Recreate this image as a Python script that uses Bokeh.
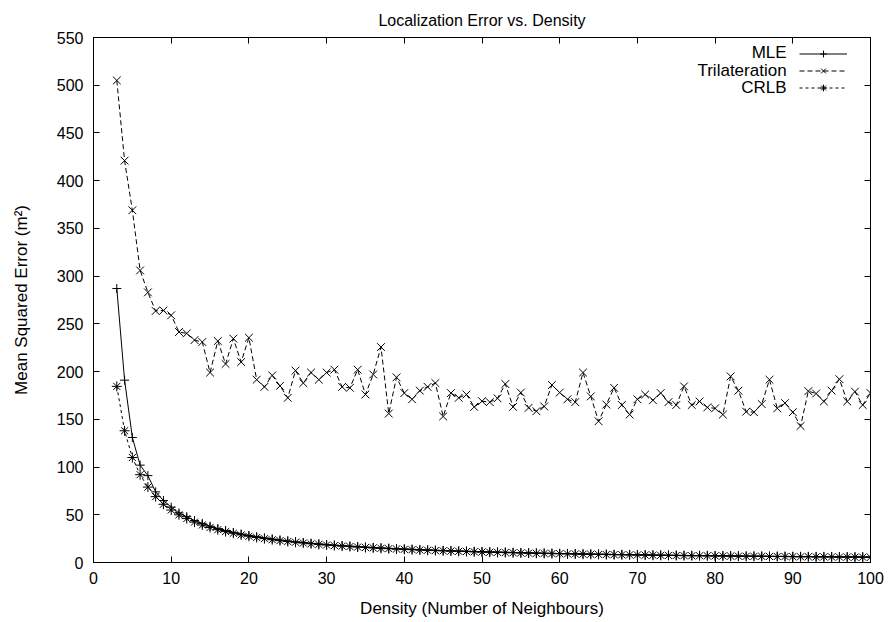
from bokeh.plotting import figure
from bokeh.models import (Range1d, LinearAxis, FixedTicker, Legend, LegendItem,
                          Label, CustomJSTickFormatter)
from bokeh.embed import file_html
from bokeh.resources import INLINE

FONT = "Liberation Sans"
FS = "16px"

# ---------------- data ----------------
density = list(range(3, 101))

mle = [287, 191, 131, 102, 91, 74, 65, 58, 52, 48,
       44, 41, 38, 35.5, 33.5, 31.5, 29.8, 28.3, 27, 25.7,
       24.6, 23.5, 22.6, 21.7, 20.9, 20.1, 19.4, 18.8, 18.2, 17.6,
       17.1, 16.6, 16.1, 15.7, 15.2, 14.8, 14.5, 14.1, 13.8, 13.4,
       13.1, 12.8, 12.5, 12.3, 12.0, 11.8, 11.5, 11.3, 11.1, 10.9,
       10.7, 10.5, 10.3, 10.1, 9.9, 9.7, 9.6, 9.4, 9.3, 9.1,
       9.0, 8.8, 8.7, 8.6, 8.4, 8.3, 8.2, 8.1, 8.0, 7.8,
       7.7, 7.6, 7.5, 7.4, 7.3, 7.2, 7.2, 7.1, 7.0, 6.9,
       6.8, 6.7, 6.7, 6.6, 6.5, 6.4, 6.4, 6.3, 6.2, 6.2,
       6.1, 6.0, 6.0, 5.9, 5.9, 5.8, 5.7, 5.7]

trilateration = [505, 421, 369, 306, 283, 263.5, 264, 259, 241.5, 240,
                 233, 231, 199, 232, 208, 234.5, 210, 235.5, 191.5, 184,
                 196, 185, 172.5, 201, 188, 199, 191.5, 199, 202, 184,
                 183, 202, 176, 197, 225.7, 156, 194, 177.5, 171, 180,
                 184, 188, 153, 177.5, 172.5, 176, 163, 169, 168, 172,
                 187, 163, 178, 162, 158.5, 163.5, 186, 178, 171, 168,
                 199, 174, 148, 165.5, 183, 165, 155, 171, 176, 170,
                 177.5, 168, 165, 184.5, 165, 168.7, 162.5, 161.5, 155, 195,
                 180, 158, 157.5, 166, 191.5, 161.5, 167, 157.5, 143, 179.5,
                 177, 168.7, 180, 192, 168.7, 179, 165, 177.5]

crlb = [184.5, 138, 110, 92, 79, 69, 61, 55, 50, 46,
        42.3, 39.3, 36.7, 34.4, 32.4, 30.6, 28.9, 27.5, 26.2, 25.0,
        23.9, 22.9, 22.0, 21.2, 20.4, 19.6, 19.0, 18.3, 17.7, 17.2,
        16.7, 16.2, 15.7, 15.3, 14.9, 14.5, 14.1, 13.8, 13.4, 13.1,
        12.8, 12.5, 12.2, 12.0, 11.7, 11.5, 11.2, 11.0, 10.8, 10.6,
        10.4, 10.2, 10.0, 9.8, 9.6, 9.5, 9.3, 9.2, 9.0, 8.9,
        8.7, 8.6, 8.5, 8.3, 8.2, 8.1, 8.0, 7.9, 7.7, 7.6,
        7.5, 7.4, 7.3, 7.2, 7.1, 7.1, 7.0, 6.9, 6.8, 6.7,
        6.6, 6.5, 6.5, 6.4, 6.3, 6.3, 6.2, 6.1, 6.0, 6.0,
        5.9, 5.9, 5.8, 5.7, 5.7, 5.6, 5.6, 5.5]

series_names = ["MLE", "Trilateration", "CRLB"]
x_ticks = list(range(0, 101, 10))
y_ticks = list(range(0, 551, 50))
title_text = "Localization Error vs. Density"

assert len(mle) == len(density) == len(trilateration) == len(crlb)

# ---------------- figure ----------------
p = figure(width=890, height=622, output_backend="svg", toolbar_location=None,
           x_range=Range1d(0, 100), y_range=Range1d(0, 550),
           min_border_left=93, min_border_right=20,
           min_border_top=37, min_border_bottom=60,
           background_fill_color="white", border_fill_color="white")

p.title.text = title_text
p.title.align = "center"
p.title.vertical_align = "top"
p.title.text_font = FONT
p.title.text_font_size = "16px"
p.title.text_font_style = "normal"
p.title.text_color = "black"
p.title.standoff = 14

p.xgrid.visible = False
p.ygrid.visible = False
p.outline_line_color = "black"
p.outline_line_width = 1

def style_axis(ax, ticks):
    ax.ticker = FixedTicker(ticks=ticks, minor_ticks=[])
    ax.axis_line_color = "black"
    ax.major_tick_line_color = "black"
    ax.major_tick_in = 6
    ax.major_tick_out = 0
    ax.minor_tick_line_color = None
    ax.major_label_text_font = FONT
    ax.major_label_text_font_size = FS
    ax.major_label_text_color = "black"
    ax.axis_label_text_font = FONT
    ax.axis_label_text_font_size = "17px"
    ax.axis_label_text_font_style = "normal"
    ax.axis_label_text_color = "black"

style_axis(p.xaxis[0], x_ticks)
style_axis(p.yaxis[0], y_ticks)
p.xaxis[0].axis_label = "Density (Number of Neighbours)"
p.yaxis[0].axis_label = "Mean Squared Error (m²)"
p.xaxis[0].major_label_standoff = 9
p.xaxis[0].axis_label_standoff = 12
p.yaxis[0].major_label_standoff = 10
p.yaxis[0].axis_label_standoff = 23

blank = CustomJSTickFormatter(code="return ''")
top = LinearAxis(formatter=blank)
right = LinearAxis(formatter=blank)
style_axis(top, x_ticks)
style_axis(right, y_ticks)
for ax in (top, right):
    ax.major_label_standoff = 0
    ax.major_label_text_font_size = "0px"
p.add_layout(top, "above")
p.add_layout(right, "right")

# ---------------- series ----------------
mle_line = p.line(density, mle, line_color="black", line_width=1)
mle_pts = p.scatter(density, mle, marker="cross", size=9, line_color="black", line_width=1)
tri_line = p.line(density, trilateration, line_color="black", line_width=1, line_dash="5 3")
tri_pts = p.scatter(density, trilateration, marker="x", size=11, line_color="black", line_width=1)
crlb_line = p.line(density, crlb, line_color="black", line_width=1, line_dash="3 3")
crlb_pts = p.scatter(density, crlb, marker="asterisk", size=10, line_color="black", line_width=1)

# ---------------- legend (gnuplot style: text right, sample left) ----------------
legend = Legend(items=[LegendItem(label=" ", renderers=[mle_line, mle_pts]),
                       LegendItem(label=" ", renderers=[tri_line, tri_pts]),
                       LegendItem(label=" ", renderers=[crlb_line, crlb_pts])],
                location=(706, 466), glyph_width=48, glyph_height=17,
                label_height=17, label_width=0, label_standoff=0,
                label_text_font_size="1px", padding=0, spacing=0, margin=0,
                border_line_alpha=0, background_fill_alpha=0)
p.add_layout(legend)

legend_y = [534.2, 515.7, 497.5]
for name, yy in zip(series_names, legend_y):
    p.add_layout(Label(x=89.2, y=yy, text=name, text_align="right",
                       text_baseline="middle", text_font=FONT,
                       text_font_size="17px", text_color="black"))

open("out.html", "w").write(file_html(p, INLINE))
